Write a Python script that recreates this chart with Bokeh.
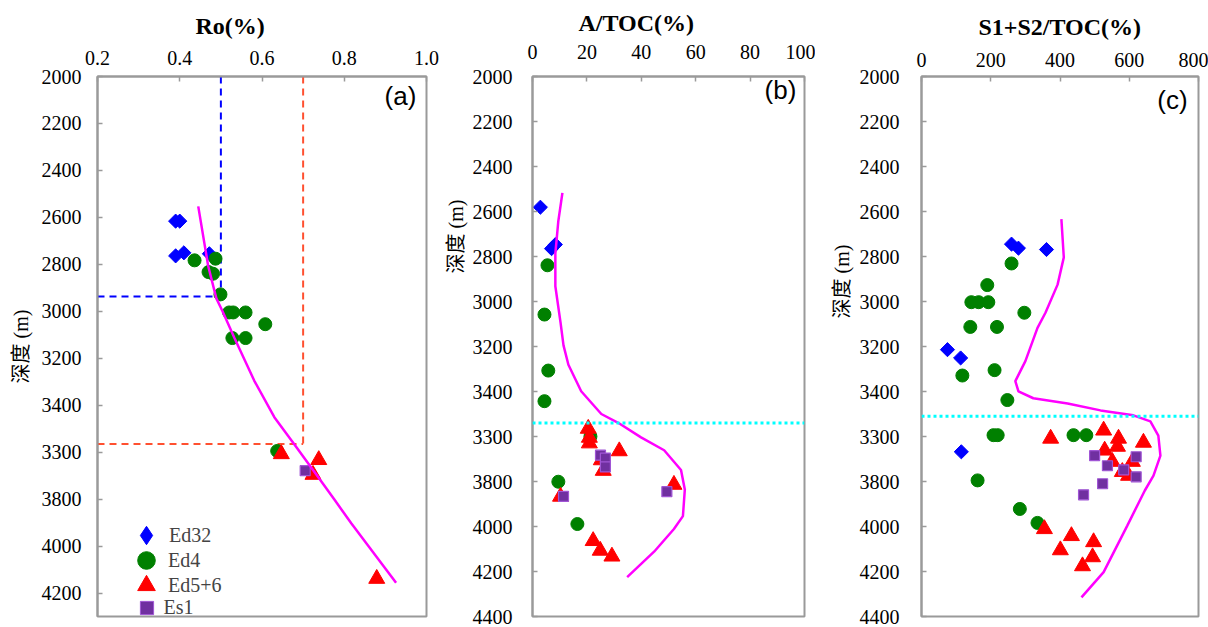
import math
from bokeh.plotting import figure
from bokeh.models import Range1d, FixedTicker, Label, Span, Legend, LegendItem, Title
from bokeh.layouts import row
from bokeh.embed import file_html
from bokeh.resources import INLINE

# ---------------- data ----------------
series_names = ["Ed32", "Ed4", "Ed5+6", "Es1"]

depth_ticks = [2000, 2200, 2400, 2600, 2800, 3000, 3200, 3400, 3600, 3800, 4000, 4200, 4400]
depth_tick_labels = ["2000", "2200", "2400", "2600", "2800", "3000", "3200", "3400",
                     "3300", "3800", "4000", "4200", "4400"]

# (a) Ro(%)
ro_ticks = [0.2, 0.4, 0.6, 0.8, 1.0]
ro_tick_labels = ["0.2", "0.4", "0.6", "0.8", "1.0"]
ro_ed32_x = [0.39, 0.40, 0.39, 0.41, 0.472]
ro_ed32_y = [2616, 2616, 2764, 2751, 2755]
ro_ed4_x = [0.436, 0.487, 0.470, 0.481, 0.499, 0.520, 0.530, 0.560, 0.608, 0.528, 0.560, 0.637]
ro_ed4_y = [2783, 2776, 2833, 2840, 2928, 3005, 3005, 3005, 3055, 3114, 3114, 3595]
ro_ed56_x = [0.647, 0.738, 0.724, 0.879]
ro_ed56_y = [3608, 3633, 3696, 4139]
ro_es1_x = [0.705]
ro_es1_y = [3679]
ro_trend_x = [0.445, 0.469, 0.489, 0.504, 0.533, 0.581, 0.630, 0.678, 0.736, 0.776, 0.817, 0.926]
ro_trend_y = [2553, 2806, 2945, 3000, 3114, 3295, 3451, 3565, 3705, 3802, 3903, 4156]
ro_cut_x = [0.5, 0.7]
ro_cut_depth = [2937, 3565]

# (b) A/TOC(%)
atoc_ticks = [0, 20, 40, 60, 80, 100]
atoc_tick_labels = ["0", "20", "40", "60", "80", "100"]
atoc_ed32_x = [2.9, 8.4, 7.0]
atoc_ed32_y = [2581, 2747, 2765]
atoc_ed4_x = [5.5, 4.4, 5.8, 4.4, 21.3, 9.5, 16.5]
atoc_ed4_y = [2839, 3058, 3307, 3443, 3600, 3801, 3989]
atoc_ed56_x = [20.5, 20.9, 20.9, 31.9, 25.3, 26.0, 52.0, 10.3, 22.3, 24.9, 29.2]
atoc_ed56_y = [3565, 3605, 3630, 3665, 3705, 3752, 3814, 3867, 4064, 4107, 4133]
atoc_es1_x = [25.0, 26.8, 26.8, 11.4, 49.4]
atoc_es1_y = [3683, 3696, 3735, 3866, 3845]
atoc_trend_x = [11.0, 9.5, 8.4, 8.4, 10.3, 11.4, 13.2, 17.9, 25.3, 31.5, 39.9, 48.4,
                54.6, 56.0, 55.3, 52.0, 44.7, 34.8]
atoc_trend_y = [2517, 2642, 2787, 2932, 3093, 3195, 3281, 3399, 3500, 3539, 3604, 3661,
                3749, 3836, 3954, 4011, 4112, 4225]
atoc_boundary = 3540

# (c) S1+S2/TOC(%)
hi_ticks = [0, 200, 400, 600, 800]
hi_tick_labels = ["0", "200", "400", "600", "800"]
hi_ed32_x = [260, 280, 361, 75, 113, 115]
hi_ed32_y = [2745, 2763, 2769, 3214, 3251, 3668]
hi_ed4_x = [260, 190, 144, 165, 193, 297, 141, 218, 118, 211, 248, 208, 220, 439, 476, 162, 284, 335]
hi_ed4_y = [2831, 2927, 3003, 3003, 3003, 3050, 3113, 3113, 3329, 3305, 3438, 3594, 3594,
            3594, 3594, 3795, 3922, 3984]
hi_ed56_x = [373, 526, 569, 641, 529, 566, 551, 609, 598, 580, 355, 433, 497, 401, 494, 465]
hi_ed56_y = [3609, 3573, 3609, 3627, 3662, 3645, 3712, 3712, 3774, 3757, 4011, 4042, 4069,
             4105, 4136, 4176]
hi_es1_x = [500, 537, 584, 620, 620, 523, 468]
hi_es1_y = [3685, 3730, 3748, 3690, 3779, 3810, 3859]
hi_trend_x = [404, 411, 393, 358, 335, 300, 271, 280, 323, 422, 517, 612, 661, 684, 690,
              670, 645, 594, 526, 462]
hi_trend_y = [2634, 2804, 2925, 3050, 3117, 3265, 3354, 3399, 3430, 3453, 3484, 3506, 3533,
              3596, 3685, 3774, 3840, 3997, 4203, 4315]
hi_boundary = 3510

# ---------------- styling ----------------
SERIF = "Liberation Serif"
SERIF_CJK = "Liberation Serif, Noto Sans CJK SC"
SANS = "Liberation Sans"
FRAME = "#9a9a9a"
H = 627
BORDER_TOP = 76
BORDER_BOTTOM = 11
FRAME_BOTTOM = H - BORDER_BOTTOM
NAN = float("nan")

BLUE, GREEN, RED, PURPLE, PURPLE_EDGE = "#0000FF", "#008000", "#FF0000", "#7030A0", "#A055D5"
MAGENTA, CYAN = "#FF00FF", "#00FFFF"


def make_panel(width, bl, br, xr, yr, xt, xtl, x_std, y_std,
               title, t_off, t_std, ylab_bottom, ylab_std):
    p = figure(width=width, height=H, x_range=Range1d(*xr), y_range=Range1d(*yr),
               x_axis_location="above", output_backend="svg", toolbar_location=None,
               min_border_left=bl, min_border_right=br, min_border_top=BORDER_TOP,
               min_border_bottom=BORDER_BOTTOM)
    p.grid.visible = False
    p.outline_line_color = FRAME
    p.outline_line_width = 2
    p.background_fill_color = "white"
    p.border_fill_color = "white"
    p.xaxis.ticker = FixedTicker(ticks=xt)
    p.xaxis.major_label_overrides = dict(zip(xt, xtl))
    p.yaxis.ticker = FixedTicker(ticks=depth_ticks)
    p.yaxis.major_label_overrides = dict(zip(depth_ticks, depth_tick_labels))
    p.xaxis.major_label_standoff = x_std
    p.yaxis.major_label_standoff = y_std
    for ax in (p.xaxis[0], p.yaxis[0]):
        ax.axis_line_color = FRAME
        ax.axis_line_width = 2
        ax.major_tick_line_color = FRAME
        ax.major_tick_line_width = 1.5
        ax.major_tick_in = 5
        ax.major_tick_out = 0
        ax.minor_tick_line_color = None
        ax.major_label_text_font = SERIF
        ax.major_label_text_font_size = "20px"
        ax.major_label_text_color = "black"
    # panel title above the top axis
    p.title.text = title
    p.title.align = "left"
    p.title.offset = t_off
    p.title.standoff = t_std
    p.title.text_font = SERIF
    p.title.text_font_size = "24px"
    p.title.text_font_style = "bold"
    p.title.text_color = "black"
    # depth label on the left, outside the tick labels
    p.add_layout(Title(text="深度 (m)", align="left", offset=FRAME_BOTTOM - ylab_bottom,
                       standoff=ylab_std, text_font=SERIF_CJK, text_font_size="20px",
                       text_font_style="normal", text_color="black"), "left")
    return p


def add_tag(p, x, y_from_top, text):
    p.add_layout(Label(x=x, y=FRAME_BOTTOM - y_from_top, x_units="screen", y_units="screen",
                       text=text, text_font=SANS, text_font_size="26px",
                       text_align="center", text_baseline="middle", text_color="black"))


def add_series(p, ed32, ed4, ed56, es1, trend):
    p.scatter(ed32[0], ed32[1], marker="square", angle=math.pi / 4, size=10,
              fill_color=BLUE, line_color=BLUE)
    p.scatter(ed4[0], ed4[1], marker="circle", size=13, fill_color=GREEN, line_color=GREEN)
    p.scatter(ed56[0], ed56[1], marker="triangle", size=16, fill_color=RED, line_color=RED)
    p.scatter(es1[0], es1[1], marker="square", size=10, fill_color=PURPLE,
              line_color=PURPLE_EDGE, line_width=1.2)
    p.line(trend[0], trend[1], line_color=MAGENTA, line_width=2.5)


# ---- (a)
pa = make_panel(440, 96, 14, (0.2, 1.0), (4300, 2000), ro_ticks, ro_tick_labels, 12, 16,
                "Ro(%)", 98, 18, 383, 14)
cut_colors = [BLUE, "#FF5030"]
pa.segment(x0=ro_cut_x, y0=[2000] * 2, x1=ro_cut_x, y1=ro_cut_depth,
           line_color=cut_colors, line_dash="7 5", line_width=2)
pa.segment(x0=[0.2] * 2, y0=ro_cut_depth, x1=ro_cut_x, y1=ro_cut_depth,
           line_color=cut_colors, line_dash="7 5", line_width=2)
add_series(pa, (ro_ed32_x, ro_ed32_y), (ro_ed4_x, ro_ed4_y), (ro_ed56_x, ro_ed56_y),
           (ro_es1_x, ro_es1_y), (ro_trend_x, ro_trend_y))

# legend (one small legend per entry so that the swatches can be as large as in the original)
legend_markers = ["diamond", "circle", "triangle", "square"]
legend_fill = [BLUE, GREEN, RED, PURPLE]
legend_line = [BLUE, GREEN, RED, PURPLE_EDGE]
legend_box = [46, 44, 44, 33]
legend_center_y = [535, 560, 585, 607]   # canvas px
for name, mk, fc, lc, g, cy in zip(series_names, legend_markers, legend_fill, legend_line,
                                   legend_box, legend_center_y):
    proxy = pa.scatter(x=[NAN], y=[NAN], marker=mk, fill_color=fc, line_color=lc)
    lg = Legend(items=[LegendItem(label=name, renderers=[proxy])],
                location=(145 - g / 2 - 96, FRAME_BOTTOM - (cy + g / 2)),
                glyph_width=g, glyph_height=g, label_height=g, padding=0, margin=0,
                label_standoff=max(0, int(18 - g / 2)), background_fill_alpha=0,
                border_line_alpha=0, label_text_font=SERIF, label_text_font_size="20px")
    pa.add_layout(lg)

add_tag(pa, 303, 95, "(a)")

# ---- (b)
pb = make_panel(375, 91, 11, (0, 100), (4400, 2000), atoc_ticks, atoc_tick_labels, 18, 20,
                "A/TOC(%)", 46, 12, 273, 5)
pb.add_layout(Span(location=atoc_boundary, dimension="width", line_color=CYAN,
                   line_dash="3 3", line_width=3))
add_series(pb, (atoc_ed32_x, atoc_ed32_y), (atoc_ed4_x, atoc_ed4_y), (atoc_ed56_x, atoc_ed56_y),
           (atoc_es1_x, atoc_es1_y), (atoc_trend_x, atoc_trend_y))
add_tag(pb, 248, 89, "(b)")

# ---- (c)
pc = make_panel(393, 106, 10, (0, 800), (4400, 2000), hi_ticks, hi_tick_labels, 10, 22,
                "S1+S2/TOC(%)", 57, 20, 318, 8)
pc.add_layout(Span(location=hi_boundary, dimension="width", line_color=CYAN,
                   line_dash="3 3", line_width=3))
add_series(pc, (hi_ed32_x, hi_ed32_y), (hi_ed4_x, hi_ed4_y), (hi_ed56_x, hi_ed56_y),
           (hi_es1_x, hi_es1_y), (hi_trend_x, hi_trend_y))
add_tag(pc, 251, 99, "(c)")

layout = row(pa, pb, pc, spacing=0)
open("out.html", "w").write(file_html(layout, INLINE))
